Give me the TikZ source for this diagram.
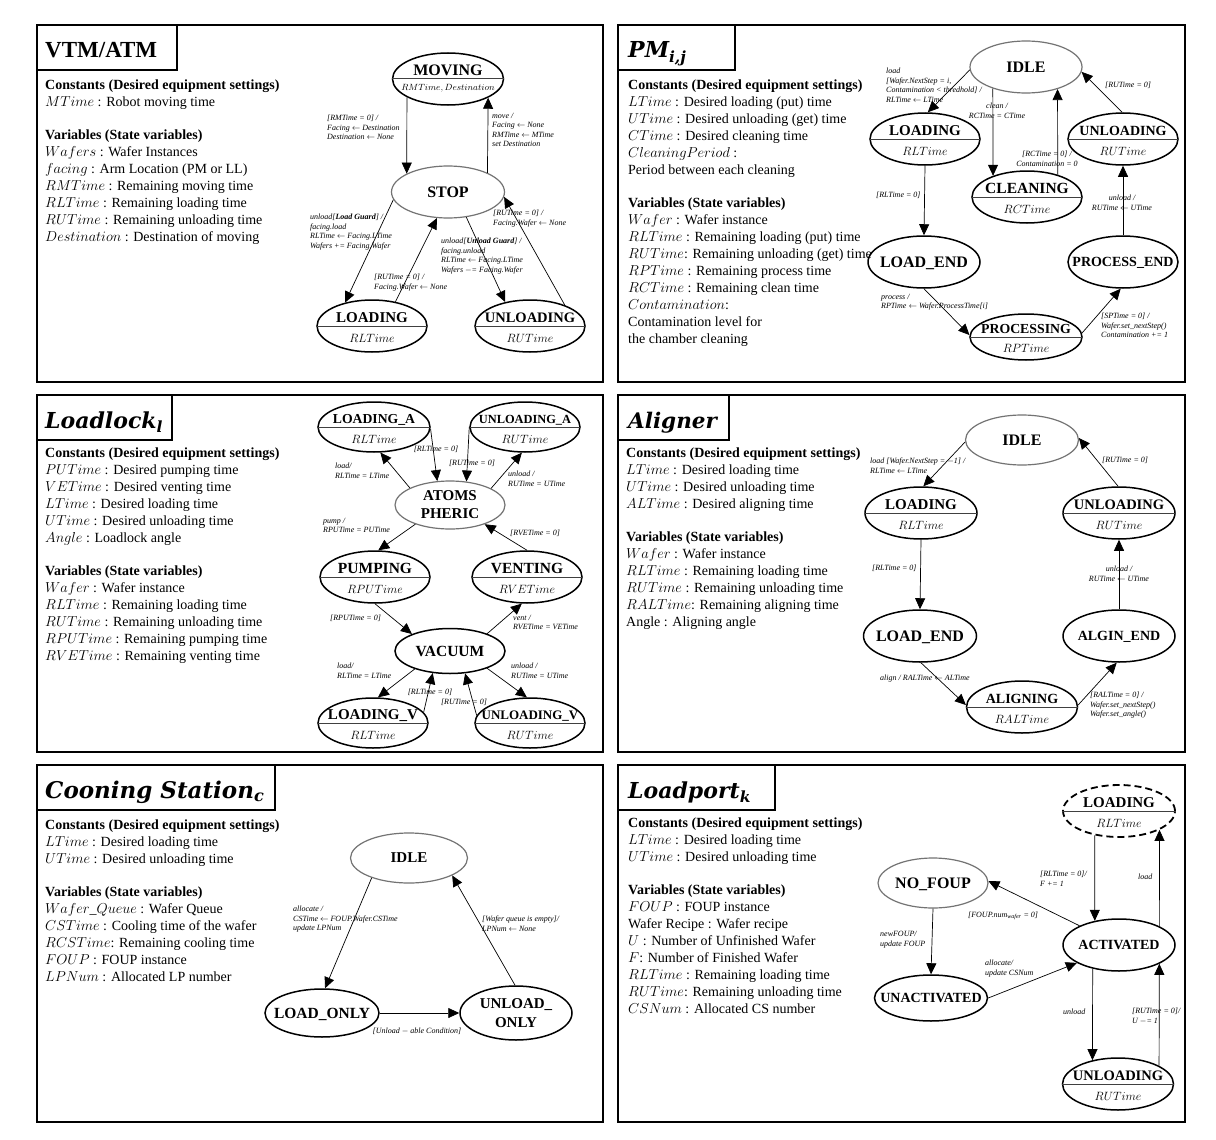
\documentclass[tikz,border=0pt]{standalone}
\usepackage{fontspec}
\setmainfont{Liberation Serif}
\newfontfamily\ttlfont{DejaVu Serif}
\usetikzlibrary{shapes.geometric,arrows.meta}
\newcommand\stf[1]{\fontsize{#1}{#1}\selectfont\bfseries}
\newcommand\myvf{\fontsize{12}{12}\selectfont}
\newcommand\lblf{\fontsize{8}{9.5}\selectfont\itshape}
\newcommand\bodyf{\fontsize{14}{17}\selectfont}
\newcommand\ttlf[1]{\fontsize{#1}{#1}\selectfont\ttlfont\bfseries\itshape}
\tikzset{
 st/.style={ellipse, draw=black, line width=1.5pt, minimum height=52pt, minimum width=112pt, inner sep=0pt},
 gst/.style={draw=black!55, line width=1.2pt},
 divl/.style={draw=black!75, line width=1pt},
 tr/.style={-{Triangle[length=11pt,width=10pt]}, line width=0.7pt},
 lbl/.style={font=\lblf, align=left, inner sep=0pt, anchor=north west},
 lblc/.style={font=\lblf, align=center, inner sep=0pt},
 body/.style={font=\bodyf, align=left, anchor=north west, inner sep=0pt},
 panel/.style={draw=black, line width=2.2pt},
 tbox/.style={draw=black, line width=1.8pt},
 ttl/.style={anchor=base west, inner sep=0pt},
}
% [opts]{name}{x}{y}{w}{title size}{title}{var}{var offset}
\newcommand\splitstate[9][]{%
 \node[st, minimum width=#5pt, #1] (#2) at (#3,#4) {};
 \draw[divl] (#2.west) -- (#2.east);
 \node[anchor=base, inner sep=0pt, font=\stf{#6}] (#2-t) at ([yshift=4pt]#2.center) {#7};
 \node[anchor=base, inner sep=0pt, font=\myvf] (#2-v) at ([yshift=#9pt]#2.center) {#8};
}
% [opts]{name}{x}{y}{w}{title size}{title}
\newcommand\simplestate[7][]{%
 \node[st, minimum width=#5pt, #1] (#2) at (#3,#4) {};
 \node[anchor=base, inner sep=0pt, font=\stf{#6}] (#2-t) at ([yshift={-0.33*#6pt}]#2.center) {#7};
}
\begin{document}
\begin{tikzpicture}[x=1pt,y=-1pt]
\useasboundingbox (0,0) rectangle (1216,1140);
\fill[white] (0,0) rectangle (1216,1140);

% ---------- panels ----------
\draw[panel] (37,25) rectangle (603,382);
\draw[panel] (618,25) rectangle (1185,382);
\draw[panel] (37,395) rectangle (603,752);
\draw[panel] (618,395) rectangle (1185,752);
\draw[panel] (37,765) rectangle (603,1122);
\draw[panel] (618,765) rectangle (1185,1122);
\draw[tbox] (37,25) rectangle (177,70);
\draw[tbox] (618,25) rectangle (735,70);
\draw[tbox] (37,395) rectangle (172,440);
\draw[tbox] (618,395) rectangle (729,440);
\draw[tbox] (37,765) rectangle (275,810);
\draw[tbox] (618,765) rectangle (775,810);
\node[ttl, font=\fontsize{23}{23}\selectfont\bfseries] (t1) at (45,58) {VTM/ATM};
\node[ttl, font=\ttlf{22}] (t2) at (628,58) {PM\textsubscript{i,j}};
\node[ttl, font=\ttlf{22}] (t3) at (45,428) {Loadlock\textsubscript{l}};
\node[ttl, font=\ttlf{21.5}] (t4) at (628,428) {Aligner};
\node[ttl, font=\ttlf{23}] (t5) at (45,798) {Cooning Station\textsubscript{c}};
\node[ttl, font=\ttlf{22}] (t6) at (628,798) {Loadport\textsubscript{k}};

% ---------- body texts ----------
\node[body] (c1) at (45,80) {\textbf{Constants (Desired equipment settings)}\\
$MTime$ : Robot moving time\\[16pt]
\textbf{Variables (State variables)}\\
$Wafers$ : Wafer Instances\\
$facing$ : Arm Location (PM or LL)\\
$RMTime$ : Remaining moving time\\
$RLTime$ : Remaining loading time\\
$RUTime$ : Remaining unloading time\\
$Destination$ : Destination of moving};

\node[body] (c2) at (628,80) {\textbf{Constants (Desired equipment settings)}\\
$LTime$ : Desired loading (put) time\\
$UTime$ : Desired unloading (get) time\\
$CTime$ : Desired cleaning time\\
$CleaningPeriod$ :\\
Period between each cleaning\\[16pt]
\textbf{Variables (State variables)}\\
$Wafer$ : Wafer instance\\
$RLTime$ : Remaining loading (put) time\\
$RUTime$: Remaining unloading (get) time\\
$RPTime$ : Remaining process time\\
$RCTime$ : Remaining clean time\\
$Contamination$:\\
Contamination level for\\
the chamber cleaning};

\node[body] (c3) at (45,448) {\textbf{Constants (Desired equipment settings)}\\
$PUTime$ : Desired pumping time\\
$VETime$ : Desired venting time\\
$LTime$ : Desired loading time\\
$UTime$ : Desired unloading time\\
$Angle$ : Loadlock angle\\[16pt]
\textbf{Variables (State variables)}\\
$Wafer$ : Wafer instance\\
$RLTime$ : Remaining loading time\\
$RUTime$ : Remaining unloading time\\
$RPUTime$ : Remaining pumping time\\
$RVETime$ : Remaining venting time};

\node[body] (c4) at (626,448) {\textbf{Constants (Desired equipment settings)}\\
$LTime$ : Desired loading time\\
$UTime$ : Desired unloading time\\
$ALTime$ : Desired aligning time\\[16pt]
\textbf{Variables (State variables)}\\
$Wafer$ : Wafer instance\\
$RLTime$ : Remaining loading time\\
$RUTime$ : Remaining unloading time\\
$RALTime$: Remaining aligning time\\
Angle : Aligning angle};

\node[body] (c5) at (45,820) {\textbf{Constants (Desired equipment settings)}\\
$LTime$ : Desired loading time\\
$UTime$ : Desired unloading time\\[16pt]
\textbf{Variables (State variables)}\\
$Wafer\_Queue$ : Wafer Queue\\
$CSTime$ : Cooling time of the wafer\\
$RCSTime$: Remaining cooling time\\
$FOUP$ : FOUP instance\\
$LPNum$ : Allocated LP number};

\node[body] (c6) at (628,818) {\textbf{Constants (Desired equipment settings)}\\
$LTime$ : Desired loading time\\
$UTime$ : Desired unloading time\\[16pt]
\textbf{Variables (State variables)}\\
$FOUP$ : FOUP instance\\
Wafer Recipe : Wafer recipe\\
$U$ : Number of Unfinished Wafer\\
$F$: Number of Finished Wafer\\
$RLTime$ : Remaining loading time\\
$RUTime$: Remaining unloading time\\
$CSNum$ : Allocated CS number};

% ---------- Panel 1: VTM/ATM ----------
\splitstate{mov}{448}{79}{111}{16}{MOVING}{\fontsize{9}{9}\selectfont$RMTime, Destination$}{-11}
\simplestate[gst]{stop}{448}{192}{113}{16}{STOP}
\splitstate{lo1}{372}{326}{110}{15}{LOADING}{$RLTime$}{-16}
\splitstate{un1}{530}{326}{110}{14.5}{UNLOADING}{$RUTime$}{-16}
\draw[tr] (mov.-156) -- (stop.156);
\draw[tr] (stop.26) -- (mov.-25);
\draw[tr] (stop.-172) -- (lo1.139);
\draw[tr] (lo1.46) -- (stop.-113);
\draw[tr] (stop.-54) -- (un1.136);
\draw[tr] (un1.31) -- (stop.-5);
\node[lbl] (a1) at (327,115) {[RMTime = 0] /\\Facing $\leftarrow$ Destination\\Destination $\leftarrow$ None};
\node[lbl] (a2) at (492,113) {move /\\Facing $\leftarrow$ None\\RMTime $\leftarrow$ MTime\\set Destination};
\node[lbl] (a3) at (310,214) {unload[\textbf{Load Guard}] /\\facing.load\\RLTime $\leftarrow$ Facing.LTime\\Wafers += Facing.Wafer};
\node[lbl] (a4) at (374,274) {[RUTime = 0] /\\Facing.Wafer $\leftarrow$ None};
\node[lbl] (a5) at (441,238) {unload[\textbf{Unload Guard}] /\\facing.unload\\RLTime $\leftarrow$ Facing.LTime\\Wafers $-$= Facing.Wafer};
\node[lbl] (a6) at (493,210) {[RUTime = 0] /\\Facing.Wafer $\leftarrow$ None};

% ---------- Panel 2: PM ----------
\simplestate[gst]{id2}{1026}{67}{112}{16}{IDLE}
\splitstate{lo2}{925}{139}{110}{15}{LOADING}{$RLTime$}{-16}
\splitstate{cl2}{1027}{197}{110}{15.5}{CLEANING}{$RCTime$}{-16}
\splitstate{un2}{1123}{139}{110}{14}{UNLOADING}{$RUTime$}{-16}
\simplestate{le2}{924}{262}{112}{16}{LOAD\_END}
\simplestate{pe2}{1123}{262}{110}{14}{PROCESS\_END}
\splitstate[minimum height=46pt]{pr2}{1026}{337}{112}{13.8}{PROCESSING}{$RPTime$}{-15}
\draw[tr] (id2.-177) -- (lo2.84);
\draw[tr] (id2.-147.5) -- (cl2.148.5);
\draw[tr] (cl2.36.5) -- (id2.-35);
\draw[tr] (un2.92) -- (id2.-5);
\draw[tr] (lo2.south) -- (le2.north);
\draw[tr] (le2.-90) -- (pr2.178);
\draw[tr] (pr2.4) -- (pe2.-95);
\draw[tr] (pe2.north) -- (un2.south);
\node[lbl] (b1) at (886,68) {load\\{[}Wafer.NextStep = i,\\Contamination < thredhold] /\\RLTime $\leftarrow$ LTime};
\node[lblc, anchor=north] (b2) at (997,103) {clean /\\RCTime = CTime};
\node[lblc, anchor=north] (b3) at (1047,151) {[RCTime = 0] /\\Contamination = 0};
\node[lbl, anchor=west] (b4) at (1105,85) {[RUTime = 0]};
\node[lbl, anchor=west] (b5) at (876,195) {[RLTime = 0]};
\node[lblc, anchor=north] (b6) at (1122,195) {unload /\\RUTime $\leftarrow$ UTime};
\node[lbl] (b7) at (881,294) {process /\\RPTime $\leftarrow$ Wafer.ProcessTime[i]};
\node[lbl] (b8) at (1101,313) {[SPTime = 0] /\\Wafer.set\_nextStep()\\Contamination += 1};

% ---------- Panel 3: Loadlock ----------
\splitstate[minimum height=50pt]{la3}{374}{427}{112}{13.7}{LOADING\_A}{$RLTime$}{-16}
\splitstate[minimum height=50pt]{ua3}{525}{427}{110}{12.4}{UNLOADING\_A}{$RUTime$}{-16}
\node[st, gst, minimum width=110pt, minimum height=48pt] (atm) at (450,505) {};
\node[font=\fontsize{15}{18}\selectfont\bfseries, align=center, inner sep=0pt] (atm-t) at (atm.center) {ATOMS\\PHERIC};
\splitstate{pu3}{375}{577}{110}{15.5}{PUMPING}{$RPUTime$}{-16}
\splitstate{ve3}{527}{577}{110}{15.5}{VENTING}{$RVETime$}{-16}
\simplestate[minimum height=45pt]{va3}{450}{651}{110}{15.5}{VACUUM}
\splitstate[minimum height=50pt]{lv3}{373}{723}{110}{15}{LOADING\_V}{$RLTime$}{-16}
\splitstate[minimum height=50pt]{uv3}{530}{723}{110}{13}{UNLOADING\_V}{$RUTime$}{-16}
\draw[tr] (atm.157) -- (la3.-76);
\draw[tr] (la3.-2) -- (atm.118);
\draw[tr] (ua3.180) -- (atm.55);
\draw[tr] (atm.22) -- (ua3.-97);
\draw[tr] (atm.-151) -- (pu3.83);
\draw[tr] (ve3.90) -- (atm.-29);
\draw[tr] (pu3.-90) -- (va3.156);
\draw[tr] (va3.25) -- (ve3.-101);
\draw[tr] (va3.-153) -- (lv3.79);
\draw[tr] (lv3.12) -- (va3.-128);
\draw[tr] (uv3.172) -- (va3.-56);
\draw[tr] (va3.-25) -- (uv3.97);
\node[lblc] (g1) at (436,449) {[RLTime = 0]};
\node[lblc] (g2) at (472,463) {[RUTime = 0]};
\node[lbl] (g3) at (335,463) {load/\\RLTime = LTime};
\node[lbl] (g4) at (508,471) {unload /\\RUTime = UTime};
\node[lbl] (g5) at (323,518) {pump /\\RPUTime = PUTime};
\node[lbl, anchor=west] (g6) at (510,533) {[RVETime = 0]};
\node[lbl, anchor=west] (g7) at (330,618) {[RPUTime = 0]};
\node[lbl] (g8) at (513,615) {vent /\\RVETime = VETime};
\node[lbl] (g9) at (337,663) {load/\\RLTime = LTime};
\node[lbl] (g10) at (511,663) {unload /\\RUTime = UTime};
\node[lblc] (g11) at (430,692) {[RLTime = 0]};
\node[lblc] (g12) at (464,702) {[RUTime = 0]};

% ---------- Panel 4: Aligner ----------
\simplestate[gst, minimum height=50pt]{id4}{1022}{440}{113}{16}{IDLE}
\splitstate{lo4}{921}{513}{112}{15}{LOADING}{$RLTime$}{-16}
\splitstate{un4}{1119}{513}{112}{14.5}{UNLOADING}{$RUTime$}{-16}
\simplestate{le4}{920}{636}{113}{16}{LOAD\_END}
\simplestate{ae4}{1119}{636}{112}{14}{ALGIN\_END}
\splitstate{al4}{1022}{707}{111}{14}{ALIGNING}{$RALTime$}{-16}
\draw[tr] (id4.-178) -- (lo4.85);
\draw[tr] (un4.92) -- (id4.2);
\draw[tr] (lo4.south) -- (le4.north);
\draw[tr] (le4.-88) -- (al4.178);
\draw[tr] (al4.2) -- (ae4.-95);
\draw[tr] (ae4.north) -- (un4.south);
\node[lbl] (d1) at (870,458) {load [Wafer.NextStep = $-$1] /\\RLTime $\leftarrow$ LTime};
\node[lbl, anchor=west] (d2) at (1102,460) {[RUTime = 0]};
\node[lbl, anchor=west] (d3) at (872,568) {[RLTime = 0]};
\node[lblc, anchor=north] (d4) at (1119,566) {unload /\\RUTime $\leftarrow$ UTime};
\node[lbl, anchor=west] (d5) at (880,679) {align / RALTime $\leftarrow$ ALTime};
\node[lbl] (d6) at (1090,692) {[RALTime = 0] /\\Wafer.set\_nextStep()\\Wafer.set\_angle()};

% ---------- Panel 5: Cooling station ----------
\simplestate[gst, minimum height=50pt]{id5}{409}{858}{117}{15}{IDLE}
\simplestate[minimum height=48pt]{lo5}{322}{1013}{114}{15.5}{LOAD\_ONLY}
\node[st, minimum width=112pt, minimum height=54pt] (uo5) at (516,1013) {};
\node[font=\fontsize{15}{19}\selectfont\bfseries, align=center, inner sep=0pt] (uo5-t) at (uo5.center) {UNLOAD\_\\ONLY};
\draw[tr] (id5.-152) -- (lo5.83);
\draw[tr] (lo5.east) -- (uo5.west);
\draw[tr] (uo5.92) -- (id5.-22);
\node[lbl] (e1) at (293,906) {allocate /\\CSTime $\leftarrow$ FOUP.Wafer.CSTime\\update LPNum};
\node[lblc] (e2) at (417,1031) {[Unload $-$ able Condition]};
\node[lbl] (e3) at (482,916) {[Wafer queue is empty]/\\LPNum $\leftarrow$ None};

% ---------- Panel 6: Loadport ----------
\splitstate[dash pattern=on 7pt off 4pt, line width=1.8pt]{ld6}{1119}{811}{112}{15}{LOADING}{$RLTime$}{-16}
\simplestate[gst, minimum height=50pt]{nf6}{933}{883}{110}{16}{NO\_FOUP}
\simplestate{ac6}{1119}{945}{112}{14}{ACTIVATED}
\simplestate[minimum height=46pt]{ua6}{931}{998}{113}{14}{UNACTIVATED}
\splitstate{ul6}{1118}{1084}{111}{14.5}{UNLOADING}{$RUTime$}{-16}
\draw[tr] (ld6.-135.6) -- (ac6.135.6);
\draw[tr] (ac6.25.6) -- (ld6.-25.6);
\draw[tr] (ac6.154) -- (nf6.2);
\draw[tr] (nf6.south) -- (ua6.north);
\draw[tr] (ua6.0) -- (ac6.-157);
\draw[tr] (ac6.-138.5) -- (ul6.137);
\draw[tr] (ul6.24) -- (ac6.-25.6);
\node[lbl] (f1) at (1040,871) {[RLTime = 0]/\\F += 1};
\node[lbl, anchor=west] (f2) at (1138,877) {load};
\node[lbl, anchor=west] (f3) at (968,916) {[FOUP.num\textsubscript{wafer} = 0]};
\node[lbl] (f4) at (880,931) {newFOUP/\\update FOUP};
\node[lbl] (f5) at (985,960) {allocate/\\update CSNum};
\node[lbl, anchor=west] (f6) at (1063,1012) {unload};
\node[lbl] (f7) at (1132,1008) {[RUTime = 0]/\\U $-$= 1};
\end{tikzpicture}
\end{document}
